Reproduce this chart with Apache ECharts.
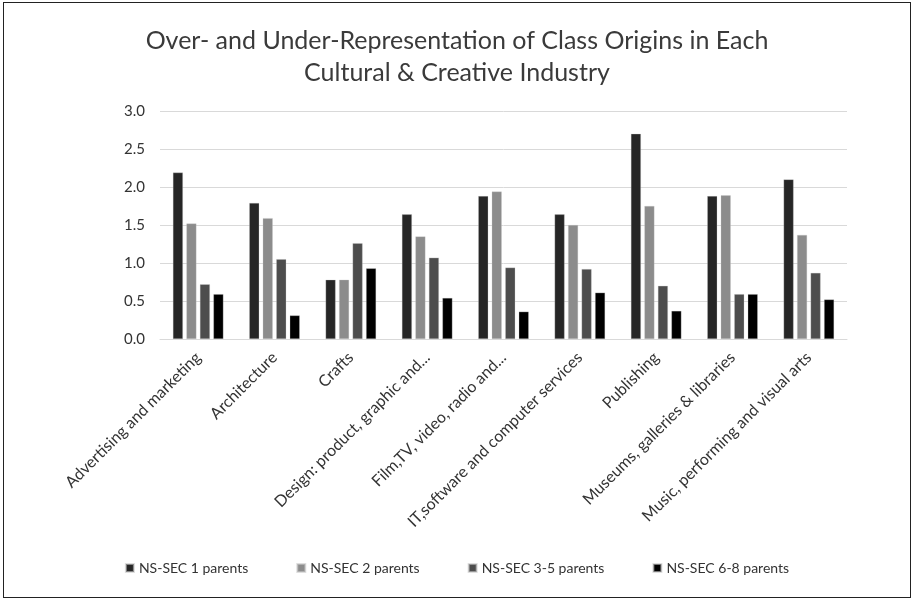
<!DOCTYPE html>
<html>
<head>
<meta charset="utf-8">
<script src="https://cdn.jsdelivr.net/npm/echarts@6/dist/echarts.min.js"></script>
<style>
html,body{margin:0;padding:0;background:#fff;}
#frame{position:absolute;left:3px;top:2px;width:906px;height:594px;border:1.5px solid #222;}
#chart{position:absolute;left:0;top:0;width:914px;height:601px;}
</style>
</head>
<body>
<div id="frame"></div>
<div id="chart"></div>
<script>
const categories = [
  "Advertising and marketing",
  "Architecture",
  "Crafts",
  "Design: product, graphic and...",
  "Film,TV, video, radio and...",
  "IT,software and computer services",
  "Publishing",
  "Museums, galleries & libraries",
  "Music, performing and visual arts"
];
const seriesNames = ["NS-SEC 1 parents", "NS-SEC 2 parents", "NS-SEC 3-5 parents", "NS-SEC 6-8 parents"];
const sec1 = [2.19, 1.79, 0.78, 1.64, 1.88, 1.64, 2.70, 1.88, 2.10];
const sec2 = [1.52, 1.59, 0.78, 1.35, 1.94, 1.50, 1.75, 1.89, 1.37];
const sec35 = [0.72, 1.05, 1.26, 1.07, 0.94, 0.92, 0.70, 0.59, 0.87];
const sec68 = [0.59, 0.31, 0.93, 0.54, 0.36, 0.61, 0.37, 0.59, 0.52];
const yTicks = [0, 0.5, 1.0, 1.5, 2.0, 2.5, 3.0];

const colors = ["#262626", "#8c8c8c", "#4d4d4d", "#000000"];
const values = [sec1, sec2, sec35, sec68];
const font = "Lato, 'Open Sans', sans-serif";

const chart = echarts.init(document.getElementById('chart'), null, {renderer: 'canvas'});
chart.setOption({
  animation: false,
  backgroundColor: 'transparent',
  title: {
    text: "Over- and Under-Representation of Class Origins in Each\nCultural & Creative Industry",
    left: 'center',
    top: 20,
    textStyle: {fontFamily: font, fontSize: 25, fontWeight: 'normal', color: '#3a3a3a', lineHeight: 32}
  },
  legend: {
    data: seriesNames,
    bottom: 21,
    left: 'center',
    itemWidth: 8,
    itemHeight: 8,
    itemGap: 48,
    itemTextGap: 4,
    icon: 'rect',
    textStyle: {fontFamily: font, fontSize: 14, color: '#333'}
  },
  grid: {left: 160, right: 67, top: 111, bottom: 262, containLabel: false},
  xAxis: {
    type: 'category',
    data: categories,
    axisLine: {lineStyle: {color: '#d9d9d9'}},
    axisTick: {show: false},
    axisLabel: {rotate: 45, interval: 0, fontFamily: font, fontSize: 16, color: '#333', margin: 16}
  },
  yAxis: {
    type: 'value',
    min: yTicks[0],
    max: yTicks[yTicks.length - 1],
    interval: 0.5,
    axisLine: {show: false},
    axisTick: {show: false},
    splitLine: {lineStyle: {color: '#d9d9d9'}},
    axisLabel: {fontFamily: font, fontSize: 15, color: '#333', margin: 15, formatter: v => v.toFixed(1)}
  },
  series: seriesNames.map((n, i) => ({
    name: n,
    type: 'bar',
    data: values[i],
    barWidth: 10,
    barGap: '35%',
    itemStyle: {color: colors[i], borderColor: 'rgba(200,200,200,0.6)', borderWidth: 0.5}
  }))
});
</script>
</body>
</html>
